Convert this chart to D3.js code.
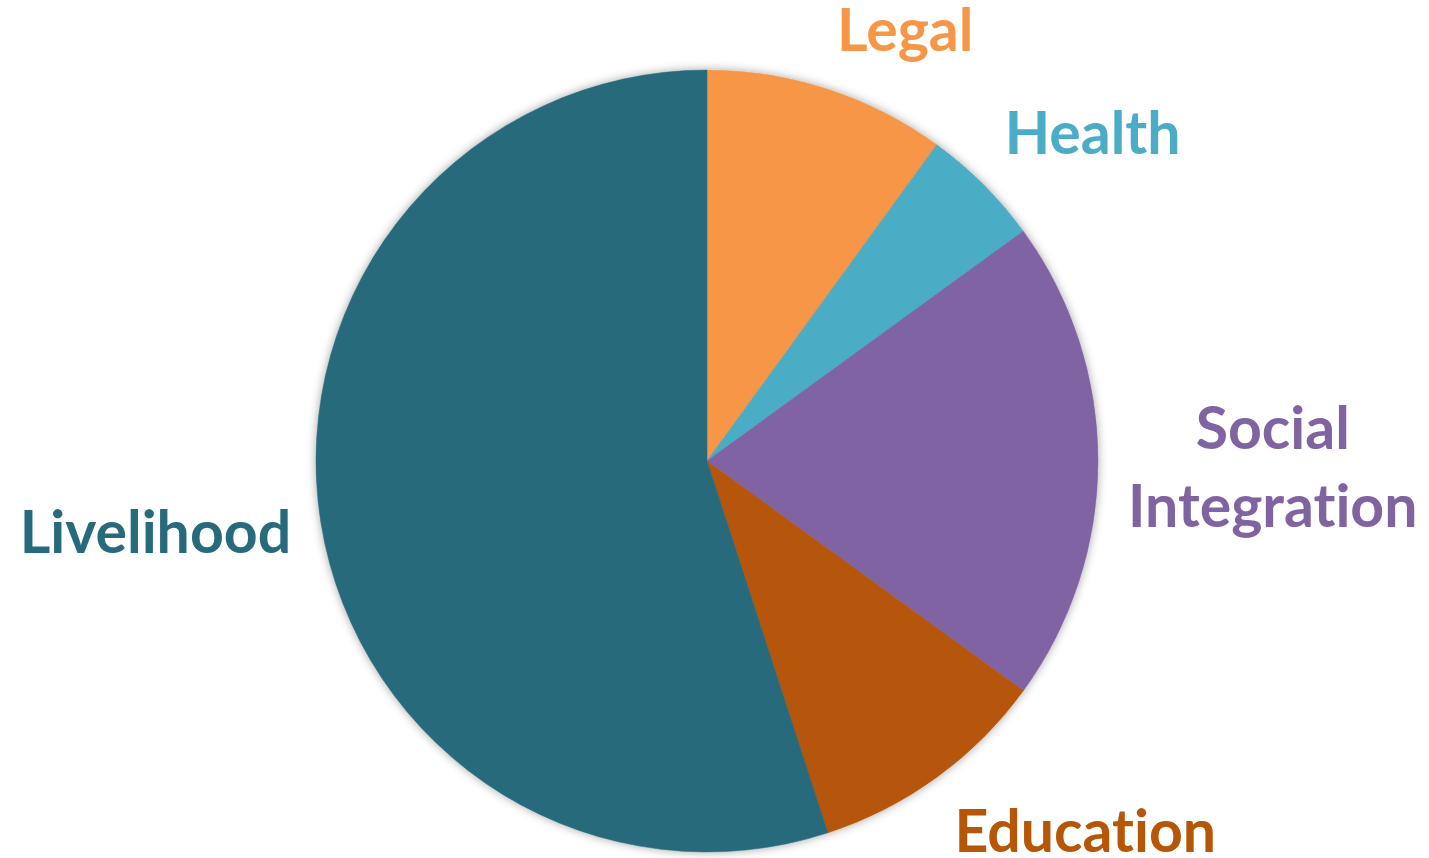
<!DOCTYPE html>
<html>
<head>
<meta charset="utf-8">
<script src="https://cdn.jsdelivr.net/npm/d3@7"></script>
<style>
  html, body { margin: 0; padding: 0; background: #ffffff; }
  svg { display: block; }
  text { font-variant-ligatures: none; font-feature-settings: "liga" 0, "clig" 0; }
</style>
</head>
<body>
<div id="chart"></div>
<script>
const categories = ["Legal", "Health", "Social Integration", "Education", "Livelihood"];
const values = [10, 5, 20, 10, 55];
const colors = ["#F79646", "#4BACC6", "#8064A2", "#B65708", "#276A7C"];
const labelLines = [["Legal"], ["Health"], ["Social", "Integration"], ["Education"], ["Livelihood"]];

const W = 1429, H = 858;
const cx = 707, cy = 461, R = 391;
const fs = 59, gap = 30, lineH = 78;

const svg = d3.select("#chart").append("svg").attr("width", W).attr("height", H);

const defs = svg.append("defs");
const f = defs.append("filter").attr("id", "shadow").attr("x", "-20%").attr("y", "-20%").attr("width", "140%").attr("height", "140%");
f.append("feGaussianBlur").attr("in", "SourceAlpha").attr("stdDeviation", 5).attr("result", "blur");
f.append("feFlood").attr("flood-color", "#000").attr("flood-opacity", 0.35).attr("result", "c");
f.append("feComposite").attr("in", "c").attr("in2", "blur").attr("operator", "in").attr("result", "sh");
const m = f.append("feMerge");
m.append("feMergeNode").attr("in", "sh");
m.append("feMergeNode").attr("in", "SourceGraphic");

const data = categories.map((c, i) => ({ name: c, value: values[i], color: colors[i], lines: labelLines[i] }));
const pie = d3.pie().value(d => d.value).sort(null);
const arcs = pie(data);
const arc = d3.arc().innerRadius(0).outerRadius(R);

const g = svg.append("g").attr("transform", `translate(${cx},${cy})`);
const pieG = g.append("g").attr("filter", "url(#shadow)");
pieG.selectAll("path").data(arcs).join("path")
  .attr("d", arc)
  .attr("fill", d => d.data.color)
  .attr("stroke", d => d.data.color)
  .attr("stroke-width", 0.5);

arcs.forEach(a => {
  const mid = (a.startAngle + a.endAngle) / 2;
  const s = Math.sin(mid), c = Math.cos(mid);
  const px = (R + gap) * s, py = -(R + gap) * c;
  const anchor = s > 0.1 ? "start" : (s < -0.1 ? "end" : "middle");
  const n = a.data.lines.length;
  let base;
  if (c > 0.25) base = py - 0.16 * fs - (n - 1) * lineH;
  else if (c < -0.25) base = py + 0.85 * fs;
  else base = py + 0.45 * fs - (n - 1) * lineH / 2;
  const t = g.append("text")
    .attr("text-anchor", anchor)
    .attr("font-family", "Lato, 'Open Sans', sans-serif")
    .attr("font-weight", "bold")
    .attr("font-size", fs)
    .attr("fill", a.data.color);
  a.data.lines.forEach((ln, i) => {
    t.append("tspan").attr("x", px).attr("y", base + i * lineH).text(ln);
  });
  if (n > 1 && anchor === "start") {
    const bb = t.node().getBBox();
    t.attr("text-anchor", "middle");
    t.selectAll("tspan").attr("x", px + bb.width / 2);
  }
});
</script>
</body>
</html>
